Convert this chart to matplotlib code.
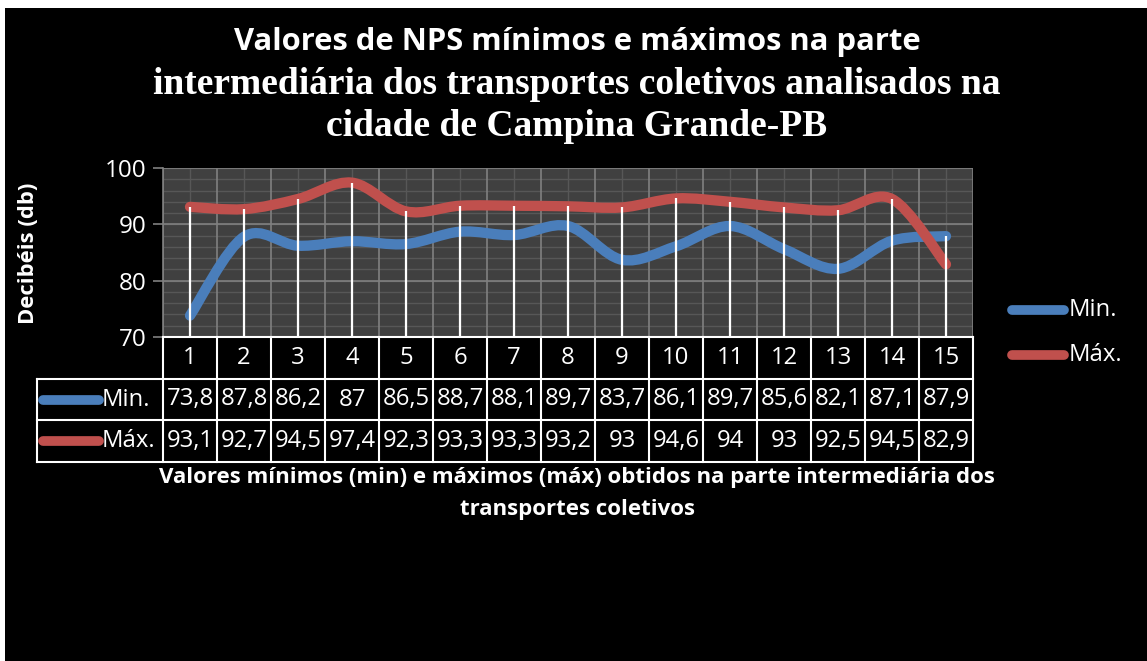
import numpy as np
import matplotlib
matplotlib.use('Agg')
import matplotlib.pyplot as plt
from matplotlib.path import Path
from matplotlib.patches import PathPatch, Rectangle
from matplotlib.lines import Line2D

# data
categories = list(range(1, 16))
min_values = [73.8, 87.8, 86.2, 87, 86.5, 88.7, 88.1, 89.7, 83.7, 86.1, 89.7, 85.6, 82.1, 87.1, 87.9]
max_values = [93.1, 92.7, 94.5, 97.4, 92.3, 93.3, 93.3, 93.2, 93, 94.6, 94, 93, 92.5, 94.5, 82.9]
series_names = ['Min.', 'Máx.']
series_colors = ['#4a7ebb', '#c0504d']

sans = 'Open Sans'
serif = 'Liberation Serif'

W, H = 1147, 661
fig = plt.figure(figsize=(W / 100, H / 100), dpi=100, facecolor='white')
# black chart area with thin white margin top/left
fig.patches.append(Rectangle((5 / W, 0), 1, (H - 8) / H, transform=fig.transFigure,
                             facecolor='black', edgecolor='none', zorder=-10))


def fx(px):
    return px / W


def fy(py):
    return 1 - py / H


left, right, top, bottom = 163, 973, 168, 337
ax = fig.add_axes([fx(left), fy(bottom), fx(right - left), (bottom - top) / H])
ax.set_facecolor('#404040')
ax.set_xlim(0.5, 15.5)
ax.set_ylim(70, 100)

# grid
for y in np.arange(70, 101, 2):
    ax.axhline(y, color='#575757', lw=1, zorder=1)
for y in [80, 90, 100]:
    ax.axhline(y, color='#808080', lw=1.2, zorder=1.5)
for x in categories:
    ax.axvline(x, color='#575757', lw=1, zorder=1)
for x in np.arange(0.5, 15.6, 1):
    ax.axvline(x, color='#808080', lw=1.2, zorder=1.5)


def smooth_path(xs, ys):
    # Excel-style smoothed line as cubic Bezier (Catmull-Rom control points)
    pts = np.column_stack([xs, ys]).astype(float)
    ext = np.vstack([pts[0], pts, pts[-1]])
    verts = [pts[0]]
    codes = [Path.MOVETO]
    for i in range(len(pts) - 1):
        p0, p1, p2, p3 = ext[i], ext[i + 1], ext[i + 2], ext[i + 3]
        verts += [p1 + (p2 - p0) / 6, p2 - (p3 - p1) / 6, p2]
        codes += [Path.CURVE4] * 3
    return Path(verts, codes)


for vals, color, z in [(min_values, series_colors[0], 3), (max_values, series_colors[1], 4)]:
    patch = PathPatch(smooth_path(categories, vals), facecolor='none', edgecolor=color,
                      lw=7.4, capstyle='round', joinstyle='round', zorder=z)
    ax.add_patch(patch)

# drop lines
tops = [max(a, b) for a, b in zip(min_values, max_values)]
ax.vlines(categories, 70, tops, color='white', lw=1.6, zorder=5)

for s in ['top', 'right', 'bottom']:
    ax.spines[s].set_visible(False)
ax.spines['left'].set_color('#808080')
ax.spines['left'].set_linewidth(1.2)
ax.set_yticks([70, 80, 90, 100])
ax.set_xticks([])
ax.tick_params(axis='y', colors='#808080', length=7, width=1.2, labelcolor='white',
               labelsize=17.5, pad=5)
for lab in ax.get_yticklabels():
    lab.set_fontfamily(sans)

# data table
tab = fig.add_axes([fx(left), fy(462), fx(right - left), (462 - 337) / H])
tab.set_xlim(0.5, 15.5)
tab.set_ylim(0, 3)
tab.axis('off')
tab.patch.set_alpha(0)
key_left = 0.5 - (left - 37) / 54.0
lw_t = 1.5
# header row
tab.plot([0.5, 15.5], [3, 3], color='white', lw=lw_t, clip_on=False)
for x in np.arange(0.5, 15.6, 1):
    tab.plot([x, x], [0, 3], color='white', lw=lw_t, clip_on=False)
for y in [0, 1, 2]:
    tab.plot([key_left, 15.5], [y, y], color='white', lw=lw_t, clip_on=False)
tab.plot([key_left, key_left], [0, 2], color='white', lw=lw_t, clip_on=False)

fs = 17.2
for c in categories:
    tab.text(c, 2.5, str(c), ha='center', va='center', color='white', fontsize=fs, family=sans)
for row_y, vals in [(1.5, min_values), (0.5, max_values)]:
    for c, v in zip(categories, vals):
        txt = ('%g' % v).replace('.', ',')
        tab.text(c, row_y, txt, ha='center', va='center', color='white', fontsize=fs, family=sans)

key_x0 = 0.5 - (left - 43) / 54.0
key_x1 = 0.5 - (left - 99) / 54.0
for row_y, name, color in [(1.5, series_names[0], series_colors[0]), (0.5, series_names[1], series_colors[1])]:
    tab.add_line(Line2D([key_x0, key_x1], [row_y, row_y], color=color, lw=7, solid_capstyle='round',
                        clip_on=False))
    tab.text(key_x1 + 0.05, row_y, name, ha='left', va='center', color='white', fontsize=fs, family=sans)

# legend on the right
for py, name, color in [(310, series_names[0], series_colors[0]), (355, series_names[1], series_colors[1])]:
    fig.add_artist(Line2D([fx(1012), fx(1064)], [fy(py), fy(py)], color=color, lw=7,
                          solid_capstyle='round', transform=fig.transFigure))
    fig.text(fx(1069), fy(py), name, ha='left', va='center', color='white', fontsize=17.2, family=sans)

# titles
fig.text(fx(577), fy(42), 'Valores de NPS mínimos e máximos na parte', ha='center', va='center',
         color='white', fontsize=22.3, fontweight='bold', family=sans)
fig.text(fx(577), fy(84), 'intermediária dos transportes coletivos analisados na', ha='center',
         va='center', color='white', fontsize=27, fontweight='bold', family=serif)
fig.text(fx(577), fy(127), 'cidade de Campina Grande-PB', ha='center', va='center',
         color='white', fontsize=27, fontweight='bold', family=serif)

fig.text(fx(28), fy(253), 'Decibéis (db)', rotation=90, ha='center', va='center', color='white',
         fontsize=15.8, fontweight='bold', family=sans)
fig.text(fx(577), fy(478), 'Valores mínimos (min) e máximos (máx) obtidos na parte intermediária dos',
         ha='center', va='center', color='white', fontsize=16, fontweight='bold', family=sans)
fig.text(fx(577), fy(510), 'transportes coletivos', ha='center', va='center', color='white',
         fontsize=16, fontweight='bold', family=sans)

fig.savefig('out.png', dpi=100, facecolor=fig.get_facecolor())
